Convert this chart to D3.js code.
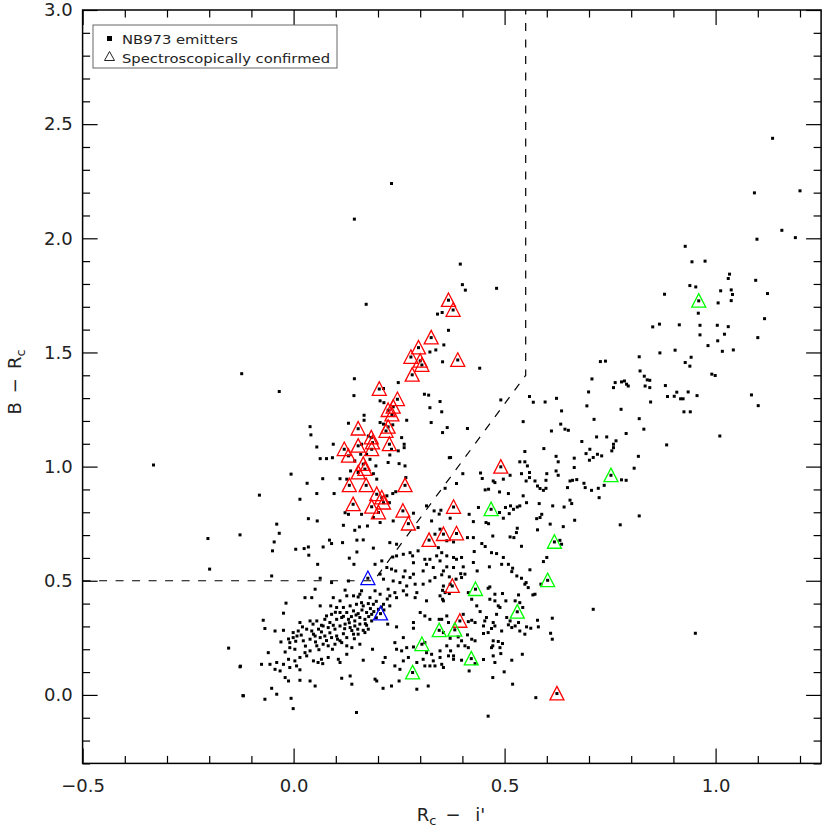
<!DOCTYPE html>
<html><head><meta charset="utf-8">
<script src="https://cdn.jsdelivr.net/npm/d3@7"></script>
<style>body{margin:0;background:#fff}svg{display:block}</style>
</head><body><svg id="c" width="830" height="830"></svg>
<script>
const emitters = [
[0.172,1.711],[-0.123,1.407],[-0.034,1.329],[0.144,1.385],[0.143,1.311],[0.341,1.668],[0.352,1.675],[0.367,1.597],[0.356,1.533],[0.323,1.502],[0.337,1.511],[0.353,1.459],[0.248,1.368],[0.310,1.317],[0.320,1.313],[0.347,1.285],[0.323,1.258],[0.351,1.240],[0.326,1.193],[0.364,1.171],[0.353,1.149],[0.213,1.342],[0.205,1.288],[0.214,1.280],[0.167,1.225],[0.167,1.203],[0.130,1.190],[0.205,1.193],[0.213,1.186],[0.235,1.183],[0.268,1.203],[0.039,1.175],[0.041,1.139],[0.055,1.086],[0.094,1.098],[0.063,1.035],[0.078,1.035],[0.092,1.039],[-0.006,0.967],[0.069,0.947],[0.256,1.127],[0.262,1.098],[0.262,1.083],[0.232,1.076],[0.248,1.069],[0.228,1.051],[0.224,1.018],[0.250,1.013],[0.264,1.003],[0.145,1.025],[0.135,0.981],[0.195,1.003],[0.189,0.969],[0.266,0.952],[0.369,1.039],[0.177,1.134],[0.161,1.098],[0.159,1.054],[0.173,1.054],[0.181,1.032],[0.110,0.947],[0.126,0.945],[0.197,0.945],
[0.232,2.240],[0.144,2.084],[0.395,1.887],[0.400,1.797],[0.407,1.773],[0.481,1.781],[0.441,1.431],
[0.032,0.927],[-0.081,0.875],[0.015,0.857],[0.055,0.882],[0.096,0.882],[0.221,0.872],[0.235,0.882],[0.242,0.890],[0.227,0.842],[0.122,0.798],[0.130,0.791],[0.161,0.791],[0.189,0.777],[0.236,0.762],[0.284,0.796],[0.315,0.828],[0.035,0.772],[0.056,0.762],[-0.040,0.748],[-0.034,0.708],[-0.127,0.701],[0.118,0.743],[0.156,0.736],[0.145,0.721],[0.175,0.740],[0.205,0.755],[-0.046,0.670],[-0.050,0.631],[0.005,0.638],[0.025,0.641],[0.035,0.648],[0.036,0.612],[0.085,0.678],[0.090,0.663],[0.070,0.648],[0.116,0.667],[0.150,0.678],[0.165,0.679],[0.150,0.626],[0.189,0.643],[0.228,0.667],[0.244,0.660],[0.295,0.733],[0.333,0.806],[0.345,0.792],[0.327,0.762],[0.347,0.726],[0.335,0.704],[0.363,0.675],[0.343,0.645],[0.057,0.572],[0.132,0.599],[0.143,0.572],[0.193,0.572],[0.209,0.587],[0.221,0.558],[0.232,0.551],[0.242,0.543],[0.260,0.616],[0.276,0.623],[0.282,0.609],[0.295,0.631],[0.244,0.609],[0.235,0.604],[0.284,0.579],[0.311,0.594],[0.323,0.594],[0.339,0.609],[0.347,0.587],[0.315,0.572],[0.331,0.558],[0.355,0.543],[0.264,0.543],[0.307,0.543],[0.284,0.529],[0.335,0.514],[-0.052,0.521],[0.063,0.511],[0.090,0.492],[0.130,0.499],[0.205,0.529],[0.213,0.507],[0.236,0.499],[0.260,0.517],[0.252,0.492],[0.276,0.514],[0.268,0.477],[0.288,0.485],[0.307,0.485],[0.323,0.499],[0.355,0.477],[0.051,0.463],[0.122,0.459],[0.161,0.456],[0.193,0.456],[0.224,0.463],[0.260,0.456],[0.292,0.448],[0.027,0.426],[0.043,0.426],[0.094,0.426],[0.126,0.434],[0.153,0.429],[0.181,0.426],[0.228,0.434],[0.244,0.426],
[-0.018,0.402],[-0.024,0.358],[0.063,0.390],[0.088,0.390],[0.110,0.412],[0.142,0.434],[0.157,0.441],[0.205,0.441],[0.240,0.448],[0.268,0.438],[0.288,0.426],[0.315,0.412],[0.347,0.434],[0.355,0.412],
[0.102,0.383],[0.118,0.383],[0.134,0.390],[0.149,0.397],[0.165,0.390],[0.177,0.400],[0.189,0.397],[0.213,0.397],[0.228,0.390],
[0.078,0.346],[0.090,0.353],[0.110,0.361],[0.126,0.361],[0.142,0.368],[0.153,0.356],[0.173,0.361],[0.185,0.353],[0.201,0.375],
[-0.072,0.327],[0.015,0.317],[0.039,0.324],[0.055,0.324],[0.074,0.331],[0.086,0.317],[0.102,0.331],[0.114,0.339],[0.130,0.331],[0.145,0.324],[0.157,0.339],[0.169,0.331],[0.185,0.324],[0.223,0.310],[0.244,0.298],
[-0.068,0.291],[-0.044,0.280],[-0.024,0.283],[-0.001,0.273],[0.011,0.280],[0.031,0.288],[0.043,0.280],[0.059,0.288],[0.070,0.302],[0.082,0.295],[0.098,0.288],[0.110,0.302],[0.122,0.310],[0.134,0.295],[0.145,0.302],[0.157,0.310],[0.165,0.283],[0.177,0.288],[0.284,0.317],[0.284,0.292],
[-0.009,0.229],[-0.001,0.251],[0.023,0.237],[0.039,0.244],[0.051,0.258],[0.063,0.251],[0.074,0.258],[0.090,0.251],[0.102,0.258],[0.110,0.237],[0.126,0.251],[0.142,0.266],[0.153,0.266],[0.169,0.273],[0.240,0.229],[0.260,0.251],[0.311,0.346],[0.300,0.361],[0.323,0.331],[0.345,0.331],
[-0.060,0.185],[-0.020,0.188],[-0.009,0.207],[0.003,0.200],[0.027,0.185],[0.039,0.193],[0.055,0.215],[0.070,0.222],[0.082,0.215],[0.098,0.222],[0.114,0.229],[0.126,0.215],[0.138,0.207],[0.157,0.222],[0.187,0.200],[0.244,0.200],[0.256,0.193],[0.268,0.207],[0.284,0.210],[0.311,0.229],[0.315,0.185],[0.327,0.178],[0.347,0.193],[0.363,0.215],[0.372,0.193],[0.379,0.171],[0.390,0.215],
[-0.040,0.142],[-0.024,0.134],[-0.012,0.156],[0.003,0.149],[0.015,0.164],[0.031,0.171],[0.047,0.149],[0.066,0.156],[0.082,0.164],[0.106,0.156],[0.126,0.178],[0.165,0.152],[0.212,0.142],[0.217,0.164],[0.260,0.149],[0.272,0.164],[0.307,0.156],[0.311,0.127],[0.331,0.149],[0.347,0.164],[0.367,0.171],[0.355,0.120],
[-0.076,0.134],[-0.056,0.134],[-0.044,0.112],[-0.032,0.105],[-0.009,0.120],[0.007,0.127],[0.015,0.110],[0.058,0.142],[0.069,0.137],[0.110,0.142],[0.193,0.069],[0.197,0.061],[0.240,0.127],[0.252,0.112],[0.292,0.142],[0.323,0.127],[0.335,0.127],[0.351,0.134],[0.379,0.156],
[-0.127,0.123],[-0.020,0.076],[-0.012,0.061],[0.015,0.064],[0.039,0.061],[0.051,0.039],[0.114,0.073],[0.134,0.083],[0.138,0.047],[0.250,0.061],[0.292,0.025],[0.319,0.039],[0.232,0.039],
[-0.052,0.029],[-0.040,0.003],[-0.119,-0.004],[-0.068,-0.019],[-0.006,-0.015],[-0.001,-0.060],[0.149,-0.077],[0.212,0.029],
[0.005,0.235],[0.018,0.262],[0.028,0.214],[0.047,0.266],[0.052,0.232],[0.066,0.276],[0.078,0.238],[0.086,0.272],[0.094,0.305],[0.104,0.244],[0.118,0.268],[0.121,0.290],[0.132,0.316],[0.138,0.282],[0.148,0.350],[0.152,0.288],[0.162,0.372],[0.170,0.312],[0.178,0.343],[0.182,0.378],[0.190,0.365],[0.196,0.410],[0.208,0.385],[0.161,0.404],[0.137,0.343],[0.118,0.344],[0.099,0.362],[0.066,0.305],[0.046,0.310],[0.021,0.298],[0.008,0.258],[-0.012,0.245],[-0.030,0.232],[0.092,0.200],[0.060,0.198],[0.144,0.246],[0.173,0.305],[0.196,0.338],[0.214,0.372],[0.222,0.420],
[0.762,1.368],[0.777,1.371],[0.789,1.361],[0.758,1.346],[0.793,1.353],[0.833,1.353],[0.844,1.346],[0.559,1.307],[0.568,1.282],[0.596,1.283],[0.623,1.299],[0.699,1.327],[0.695,1.266],[0.776,1.251],[0.846,1.283],[0.491,1.292],[0.635,1.244],[0.544,1.197],[0.633,1.186],[0.643,1.164],[0.651,1.159],[0.712,1.207],[0.819,1.210],[0.830,1.164],[0.412,1.167],[0.611,1.156],[0.718,1.130],[0.683,1.110],[0.742,1.130],[0.764,1.113],[0.758,1.098],[0.788,1.145],[0.593,1.079],[0.548,1.066],[0.693,1.057],[0.702,1.076],[0.710,1.040],[0.720,1.054],[0.730,1.047],[0.754,1.069],[0.758,1.083],[0.817,1.045],[0.807,0.993],[0.372,1.040],[0.622,1.045],[0.627,1.021],[0.665,1.037],[0.665,0.996],[0.701,1.028],[0.536,1.021],[0.548,1.021],[0.554,1.003],[0.559,0.974],[0.540,0.969],[0.600,0.969],[0.622,0.981],[0.627,0.962],[0.655,0.937],[0.443,0.972],[0.447,0.948],[0.401,0.969],[0.513,0.962],[0.497,0.945],[0.473,0.937],[0.477,0.930],[0.551,0.937],[0.559,0.952],[0.572,0.937],[0.598,0.940],[0.578,0.915],[0.584,0.904],[0.592,0.896],[0.598,0.905],[0.649,0.908],[0.661,0.940],[0.671,0.943],[0.688,0.927],[0.691,0.908],[0.706,0.896],[0.722,0.905],[0.736,0.918],[0.724,0.864],[0.454,0.898],[0.462,0.901],[0.488,0.889],[0.509,0.882],[0.386,0.926],[0.359,0.905],[0.544,0.872],[0.552,0.842],[0.536,0.828],[0.530,0.823],[0.521,0.813],[0.514,0.828],[0.502,0.821],[0.511,0.794],[0.497,0.774],[0.488,0.799],[0.582,0.838],[0.614,0.828],[0.655,0.853],[0.659,0.838],[0.641,0.823],[0.666,0.765],[0.639,0.737],[0.608,0.748],[0.584,0.777],[0.576,0.772],[0.588,0.791],[0.578,0.723],[0.438,0.821],[0.426,0.759],[0.456,0.755],[0.462,0.750],[0.416,0.791],[0.349,0.809],[0.371,0.774],[0.530,0.730],[0.528,0.711],[0.513,0.692],[0.522,0.689],[0.540,0.651],[0.472,0.696],[0.446,0.663],[0.454,0.650],[0.428,0.628],[0.469,0.623],[0.481,0.619],[0.412,0.689],[0.426,0.689],[0.379,0.670],[0.363,0.609],[0.351,0.623],[0.379,0.602],[0.398,0.602],[0.631,0.677],[0.635,0.660],[0.497,0.602],[0.600,0.602],[0.777,0.942],[0.788,0.940],[0.819,0.784],[0.774,0.745],
[0.386,0.594],[0.426,0.580],[0.493,0.572],[0.509,0.572],[0.560,0.548],[0.592,0.584],
[0.363,0.561],[0.379,0.558],[0.402,0.561],[0.396,0.531],[0.406,0.529],[0.435,0.543],[0.464,0.561],[0.517,0.540],[0.519,0.555],
[0.351,0.526],[0.369,0.517],[0.385,0.507],[0.398,0.514],[0.371,0.485],[0.353,0.458],[0.359,0.448],[0.369,0.444],[0.414,0.448],[0.422,0.419],[0.465,0.473],[0.461,0.467],[0.477,0.441],[0.495,0.444],[0.529,0.521],[0.540,0.511],[0.551,0.492],[0.556,0.470],[0.548,0.485],[0.572,0.441],[0.567,0.438],[0.586,0.485],
[0.353,0.419],[0.525,0.412],[0.533,0.438],[0.536,0.404],[0.434,0.390],[0.442,0.365],[0.465,0.419],[0.477,0.412],[0.485,0.390],[0.489,0.383],[0.481,0.353],[0.503,0.412],[0.543,0.383],
[0.363,0.346],[0.351,0.331],[0.367,0.317],[0.402,0.353],[0.414,0.321],[0.422,0.327],[0.430,0.317],[0.457,0.339],[0.453,0.324],[0.473,0.317],[0.450,0.302],[0.469,0.291],[0.477,0.302],[0.493,0.280],[0.505,0.339],[0.513,0.324],[0.517,0.295],[0.509,0.307],[0.525,0.302],[0.533,0.317],[0.536,0.280],[0.552,0.298],[0.562,0.292],[0.578,0.327],[0.580,0.298],[0.613,0.336],[0.548,0.266],
[0.355,0.273],[0.371,0.248],[0.390,0.254],[0.398,0.237],[0.412,0.263],[0.422,0.244],[0.430,0.237],[0.461,0.273],[0.473,0.237],[0.485,0.234],[0.472,0.215],[0.495,0.225],[0.489,0.207],[0.469,0.207],[0.450,0.269],[0.609,0.270],[0.613,0.244],
[0.406,0.215],[0.414,0.207],[0.398,0.152],[0.430,0.137],[0.450,0.155],[0.473,0.171],[0.491,0.181],[0.477,0.142],[0.517,0.152],[0.542,0.178],
[0.416,0.105],[0.472,0.076],[0.499,0.101],[0.519,0.047],[0.574,-0.012],[0.461,-0.093],[0.710,0.375],
[1.135,2.438],[1.092,2.199],[1.200,2.208],[1.157,2.035],[1.098,1.996],[1.189,2.003],[0.928,1.965],[0.944,1.897],[0.975,1.900],[1.033,1.843],[1.030,1.824],[1.095,1.816],[0.939,1.793],[0.953,1.787],[0.879,1.755],[1.012,1.770],[1.037,1.774],[1.040,1.754],[1.123,1.758],[1.006,1.717],[1.037,1.727],[0.959,1.672],[1.116,1.648],
[0.851,1.612],[0.867,1.624],[0.914,1.621],[0.963,1.619],[1.004,1.619],[1.030,1.613],[0.963,1.577],[1.021,1.580],[1.100,1.565],[1.005,1.551],[0.982,1.530],[1.016,1.505],[1.042,1.511],[0.904,1.510],[0.868,1.498],[0.819,1.481],[0.942,1.479],[0.928,1.456],[0.939,1.440],[0.727,1.460],[0.739,1.462],[0.821,1.419],[0.831,1.396],[0.838,1.380],[0.844,1.378],[0.991,1.405],[0.999,1.399],[0.707,1.384],[0.784,1.375],[0.881,1.355],[0.908,1.326],[0.935,1.327],[0.956,1.311],[0.886,1.307],[0.902,1.308],[0.917,1.297],[0.923,1.297],[1.085,1.314],[1.101,1.267],[0.925,1.240],[0.940,1.240],[1.010,1.134],[0.884,1.095],
[-0.332,1.007],[-0.203,0.685],[-0.199,0.551],[-0.154,0.205],[-0.126,0.126],[-0.120,-0.003],[0.952,0.270]
];
const confirmedRed = [
[0.367,1.729],[0.378,1.686],[0.326,1.565],[0.296,1.521],[0.278,1.480],[0.300,1.463],[0.304,1.445],[0.281,1.402],[0.389,1.467],[0.203,1.340],
[0.246,1.295],[0.224,1.247],[0.236,1.262],[0.233,1.228],[0.224,1.174],[0.219,1.156],[0.153,1.166],[0.184,1.127],[0.187,1.105],[0.153,1.091],[0.227,1.098],[0.120,1.076],[0.130,1.047],[0.185,1.076],[0.165,1.011],[0.169,0.989],[0.153,0.974],
[0.132,0.918],[0.172,0.918],[0.264,0.918],[0.197,0.879],[0.209,0.864],[0.213,0.842],[0.141,0.835],[0.185,0.824],[0.201,0.799],[0.259,0.806],[0.272,0.750],[0.321,0.678],[0.355,0.704],
[0.491,0.999],[0.379,0.823],[0.386,0.707],[0.376,0.477],[0.394,0.324],[0.624,0.006]
];
const confirmedGreen = [
[0.960,1.726],[0.752,0.962],[0.468,0.813],[0.618,0.670],[0.602,0.502],[0.431,0.463],[0.530,0.364],[0.382,0.285],[0.345,0.283],[0.304,0.222],[0.421,0.159],[0.282,0.098]
];
const confirmedBlue = [[0.176,0.511],[0.206,0.356]];
const cutLine = [[-0.5,0.5],[0.19,0.5],[0.55,1.4],[0.55,3.0]];
const xMajor = [-0.5,0.0,0.5,1.0];
const xLabels = ["\u22120.5","0.0","0.5","1.0"];
const yMajor = [0.0,0.5,1.0,1.5,2.0,2.5,3.0];
const yLabels = ["0.0","0.5","1.0","1.5","2.0","2.5","3.0"];
const legendLabels = ["NB973 emitters","Spectroscopically confirmed"];

const svg = d3.select("#c");
const L = 82.6, R = 821.1, T = 10, B = 763.4;
const x = d3.scaleLinear().domain([-0.5,1.25]).range([L,R]);
const y = d3.scaleLinear().domain([-0.3,3.0]).range([B,T]);
const xMinor = d3.range(-5,13).map(d=>d/10).filter(v=>!xMajor.some(m=>Math.abs(m-v)<1e-6));
const yMinor = d3.range(-3,31).map(d=>d/10).filter(v=>!yMajor.some(m=>Math.abs(m-v)<1e-6));
const FONT = "'DejaVu Sans', sans-serif";

const dots = svg.append("g");
dots.selectAll("rect.e").data(emitters.concat(confirmedRed, confirmedGreen, confirmedBlue)).enter().append("rect")
  .attr("x", d=>x(d[0])-1.5).attr("y", d=>y(d[1])-1.5).attr("width",3).attr("height",3).attr("fill","#000");

svg.append("path").datum(cutLine)
  .attr("d", d3.line().x(d=>x(d[0])).y(d=>y(d[1])))
  .attr("fill","none").attr("stroke","#000").attr("stroke-width",1.2).attr("stroke-dasharray","8,8.5");

const tri = "M0,-7.2L7,6.3L-7,6.3Z";
function drawTri(data, color){
  svg.append("g").selectAll("path").data(data).enter().append("path")
    .attr("d", tri).attr("transform", d=>`translate(${x(d[0])},${y(d[1])})`)
    .attr("fill","none").attr("stroke",color).attr("stroke-width",1.3);
}
drawTri(confirmedRed, "#ff0000");
drawTri(confirmedGreen, "#00ff00");
drawTri(confirmedBlue, "#0000ff");

function styleAxis(g){ g.select(".domain").remove(); g.selectAll("line").attr("stroke","#000").attr("stroke-width",1.2); g.selectAll("text").attr("font-family",FONT).attr("font-size",18).attr("fill","#222"); }
svg.append("g").attr("transform",`translate(0,${B})`).call(d3.axisBottom(x).tickValues(xMinor).tickSize(-7.5).tickFormat("")).call(styleAxis);
svg.append("g").attr("transform",`translate(0,${B})`).call(d3.axisBottom(x).tickValues(xMajor).tickSize(-15).tickPadding(16).tickFormat((d,i)=>xLabels[i])).call(styleAxis);
svg.append("g").attr("transform",`translate(0,${T})`).call(d3.axisTop(x).tickValues(xMinor).tickSize(-7.5).tickFormat("")).call(styleAxis);
svg.append("g").attr("transform",`translate(0,${T})`).call(d3.axisTop(x).tickValues(xMajor).tickSize(-15).tickFormat("")).call(styleAxis);
svg.append("g").attr("transform",`translate(${L},0)`).call(d3.axisLeft(y).tickValues(yMinor).tickSize(-7.5).tickFormat("")).call(styleAxis);
svg.append("g").attr("transform",`translate(${L},0)`).call(d3.axisLeft(y).tickValues(yMajor).tickSize(-15).tickPadding(10).tickFormat((d,i)=>yLabels[i])).call(styleAxis);
svg.append("g").attr("transform",`translate(${R},0)`).call(d3.axisRight(y).tickValues(yMinor).tickSize(-7.5).tickFormat("")).call(styleAxis);
svg.append("g").attr("transform",`translate(${R},0)`).call(d3.axisRight(y).tickValues(yMajor).tickSize(-15).tickFormat("")).call(styleAxis);
svg.append("rect").attr("x",L).attr("y",T).attr("width",R-L).attr("height",B-T).attr("fill","none").attr("stroke","#000").attr("stroke-width",1.5);

const xt = svg.append("text").attr("x",451).attr("y",821).attr("text-anchor","middle").attr("font-family",FONT).attr("font-size",18).attr("fill","#222");
xt.append("tspan").text("R");
xt.append("tspan").attr("font-size",13).attr("dy",4).text("c");
xt.append("tspan").attr("dy",-4).text("\u2002\u2212\u2002 i'");
const yt = svg.append("text").attr("transform","translate(21,382) rotate(-90)").attr("text-anchor","middle").attr("font-family",FONT).attr("font-size",18).attr("fill","#222");
yt.append("tspan").text("B\u2002\u2212\u2002R");
yt.append("tspan").attr("font-size",13).attr("dy",4).text("c");

const lg = svg.append("g");
lg.append("rect").attr("x",93).attr("y",25).attr("width",244).attr("height",43).attr("fill","#fff").attr("stroke","#666").attr("stroke-width",1);
lg.append("rect").attr("x",107).attr("y",36).attr("width",5).attr("height",5).attr("fill","#000");
lg.append("path").attr("d","M109.5,51.5L114.5,60.5L104.5,60.5Z").attr("fill","none").attr("stroke","#222").attr("stroke-width",1);
lg.selectAll("text.l").data(legendLabels).enter().append("text")
  .attr("x",122).attr("y",(d,i)=>43.5+i*19).attr("font-family",FONT).attr("font-size",13).attr("fill","#222")
  .attr("textLength",(d,i)=>i===0?116:208).attr("lengthAdjust","spacingAndGlyphs").text(d=>d);
</script></body></html>
